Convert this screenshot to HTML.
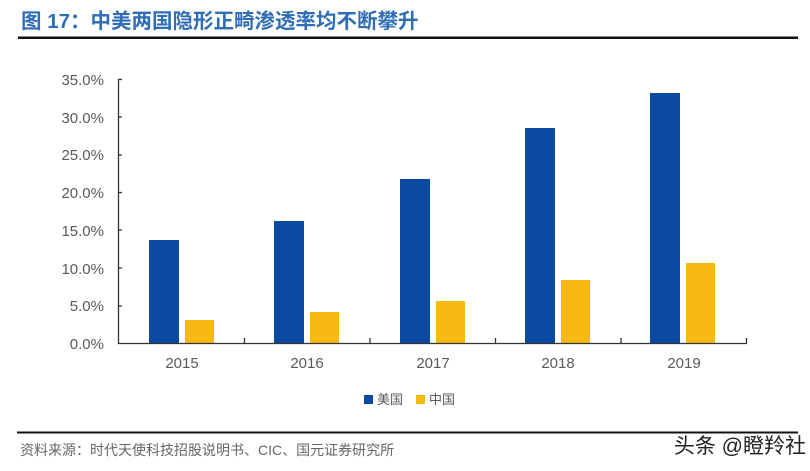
<!DOCTYPE html><html><head><style>body{margin:0;background:#fff}svg{display:block}</style></head><body>
<svg width="810" height="471" xmlns="http://www.w3.org/2000/svg" font-family="Liberation Sans, Noto Sans CJK SC, sans-serif">
<text x="21" y="28" font-size="20.5" font-weight="bold" fill="#2f6db5">图 17：中美两国隐形正畸渗透率均不断攀升</text>
<rect x="18" y="36.5" width="780" height="2.5" fill="#111"/>
<g fill="#595959" font-size="15" text-anchor="end">
<text x="104" y="85">35.0%</text><text x="104" y="123">30.0%</text><text x="104" y="160">25.0%</text><text x="104" y="198">20.0%</text><text x="104" y="236">15.0%</text><text x="104" y="274">10.0%</text><text x="104" y="311">5.0%</text><text x="104" y="349">0.0%</text>
</g>
<g fill="#0a4aa0">
<rect x="149" y="240" width="30" height="103"/><rect x="274" y="221" width="30" height="122"/><rect x="400" y="179" width="30" height="164"/><rect x="525" y="128" width="30" height="215"/><rect x="650" y="93" width="30" height="250"/>
</g>
<g fill="#f7b814">
<rect x="185" y="320" width="29" height="23"/><rect x="310" y="312" width="29" height="31"/><rect x="436" y="301" width="29" height="42"/><rect x="561" y="280" width="29" height="63"/><rect x="686" y="263" width="29" height="80"/>
</g>
<g stroke="#333" stroke-width="1.3" fill="none">
<path d="M118.5 79V343.5H747"/>
<path d="M118 79.5h4M118 117h4M118 155h4M118 192.5h4M118 230h4M118 268h4M118 306h4"/>
<path d="M244.5 343v-5M370 343v-5M495.5 343v-5M621 343v-5M746.5 343v-5"/>
</g>
<g fill="#595959" font-size="15" text-anchor="middle">
<text x="182" y="368">2015</text><text x="307" y="368">2016</text><text x="433" y="368">2017</text><text x="558" y="368">2018</text><text x="684" y="368">2019</text>
</g>
<rect x="364" y="395" width="9" height="9" fill="#0a4aa0"/><text x="377" y="404" font-size="13" fill="#595959">美国</text>
<rect x="416" y="395" width="9" height="9" fill="#f7b814"/><text x="429" y="404" font-size="13" fill="#595959">中国</text>
<rect x="17" y="431.5" width="781" height="2" fill="#111"/>
<text x="20" y="455" font-size="14" fill="#666">资料来源：时代天使科技招股说明书、CIC、国元证券研究所</text>
<text x="806" y="453" font-size="21" fill="#222" text-anchor="end">头条 @瞪羚社</text>
</svg>
</body></html>
